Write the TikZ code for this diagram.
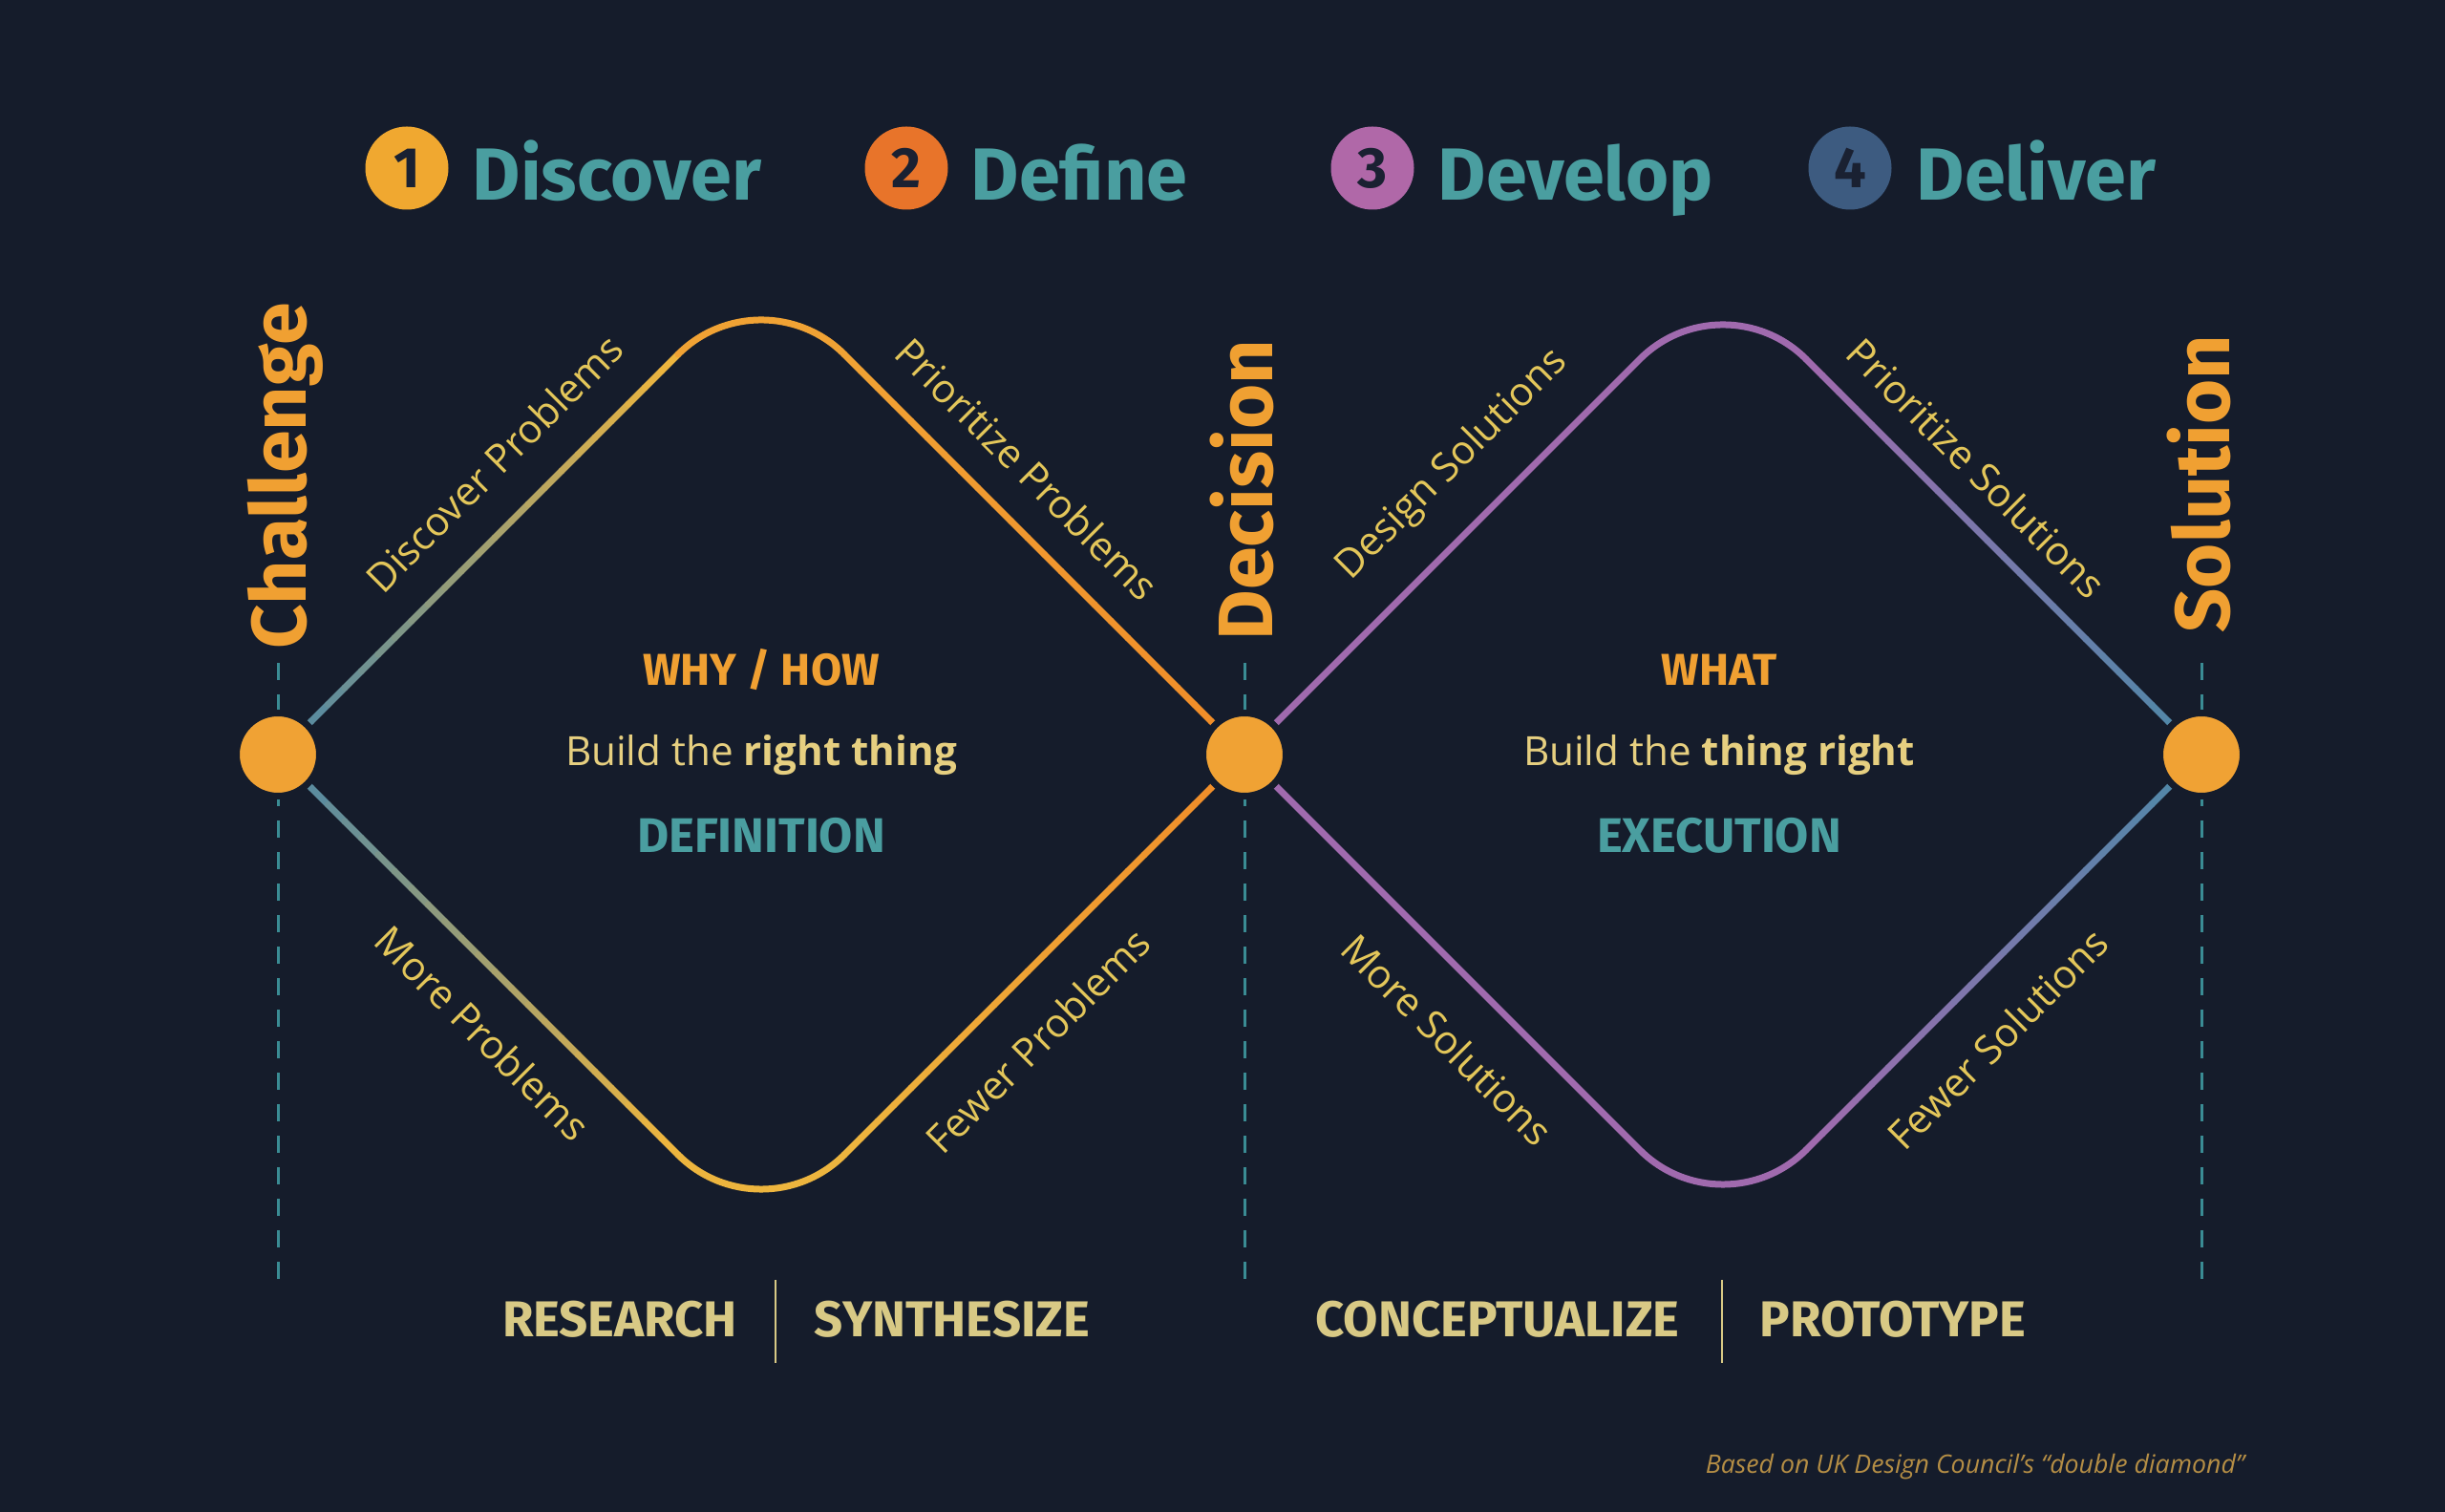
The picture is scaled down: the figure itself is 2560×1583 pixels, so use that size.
\documentclass[tikz,border=0pt]{standalone}
\usepackage{fontspec}
\setmainfont{Open Sans}
\newfontfamily\headfont{Fira Sans}
\usetikzlibrary{calc}
\usetikzlibrary{positioning}

\definecolor{bgC}{HTML}{151C2B}
\definecolor{headC}{HTML}{4A9EA0}
\definecolor{orgC}{HTML}{F0A032}
\definecolor{yelC}{HTML}{EDB53E}
\definecolor{ambC}{HTML}{F0A234}
\definecolor{oraC}{HTML}{F08C28}
\definecolor{bluC}{HTML}{4E88A8}
\definecolor{purC}{HTML}{A06AAE}
\definecolor{txtC}{HTML}{E3C65A}
\definecolor{buildC}{HTML}{E6CF80}
\definecolor{baseC}{HTML}{D8C985}
\definecolor{guideC}{HTML}{3A8C94}
\definecolor{noteC}{HTML}{B58E45}
\definecolor{oneC}{HTML}{F0A830}
\definecolor{twoC}{HTML}{E8742A}
\definecolor{threeC}{HTML}{B068A8}
\definecolor{fourC}{HTML}{3D5B80}
\definecolor{numC}{HTML}{1A2132}

% straight piece of a diamond, colour running from #3 to #4
\newcommand{\fadeline}[4]{%
    \foreach \k in {0,...,23}{%
        \pgfmathsetmacro{\ta}{\k/24}%
        \pgfmathsetmacro{\tb}{(\k+1)/24}%
        \pgfmathtruncatemacro{\mix}{100-\k*100/23}%
        \draw[dline, color=#3!\mix!#4] ($(#1)!\ta!(#2)$) -- ($(#1)!\tb!(#2)$);
    }%
}

\begin{document}
\begin{tikzpicture}[x=0.1mm, y=0.1mm,
        dline/.style={line width=0.7mm, line cap=round},
        guide/.style={guideC, line width=0.3mm, dash pattern=on 1.8mm off 1.5mm},
        dot/.style={circle, fill=ambC, draw=bgC, line width=0.7mm, minimum size=8.7mm, inner sep=0pt},
        num/.style={circle, minimum size=8.7mm, inner sep=0pt, text=numC, font=\headfont\bfseries\fontsize{17}{20}\selectfont},
        phase/.style={anchor=base west, inner sep=0pt, text=headC, font=\headfont\bfseries\fontsize{22}{26}\selectfont},
        milestone/.style={rotate=90, anchor=base west, inner sep=0pt, text=orgC, font=\headfont\bfseries\fontsize{23}{27}\selectfont},
        side/.style={sloped, inner sep=0pt, text=txtC, font=\fontsize{11.8}{14}\selectfont},
        question/.style={anchor=base, inner sep=0pt, text=orgC, font=\headfont\bfseries\fontsize{13.3}{16}\selectfont},
        build/.style={anchor=base, inner sep=0pt, text=buildC, font=\fontsize{12}{14}\selectfont},
        mode/.style={anchor=base, inner sep=0pt, text=headC, font=\headfont\bfseries\fontsize{14.5}{17}\selectfont},
        activity/.style={anchor=base, inner sep=0pt, text=baseC, font=\headfont\bfseries\fontsize{15}{18}\selectfont},
        divider/.style={baseC, line width=0.2mm}
    ]
    \fill[bgC] (0,0) rectangle (2560,1583);
    \useasboundingbox (0,0) rectangle (2560,1583);

    % phases
    \node[num, fill=oneC] (n1) at (426,1407) {1};
    \node[phase] (discover) at (494,1373) {Discover};
    \node[num, fill=twoC] (n2) at (949,1407) {2};
    \node[phase] (define) at (1016,1373) {Define};
    \node[num, fill=threeC] (n3) at (1437,1407) {3};
    \node[phase] (develop) at (1505,1373) {Develop};
    \node[num, fill=fourC] (n4) at (1937,1407) {4};
    \node[phase] (deliver) at (2006,1373) {Deliver};

    % corners
    \coordinate (top1) at (797,1299);
    \coordinate (bot1) at (797,287);
    \coordinate (top2) at (1804,1294);
    \coordinate (bot2) at (1804,292);
    \coordinate (chal) at (291,793);
    \coordinate (deci) at (1303,793);
    \coordinate (solu) at (2305,793);

    % guides
    \coordinate (chal-up) at (291,889);
    \coordinate (chal-down) at (291,231);
    \coordinate (deci-up) at (1303,889);
    \coordinate (deci-down) at (1303,231);
    \coordinate (solu-up) at (2305,889);
    \coordinate (solu-down) at (2305,231);
    \draw[guide] (chal-up) -- (chal-down);
    \draw[guide] (deci-up) -- (deci-down);
    \draw[guide] (solu-up) -- (solu-down);

    % first diamond
    \coordinate (t1a) at ($(top1)!12.3mm!(chal)$);
    \coordinate (t1b) at ($(top1)!12.3mm!(deci)$);
    \coordinate (b1a) at ($(bot1)!12.3mm!(chal)$);
    \coordinate (b1b) at ($(bot1)!12.3mm!(deci)$);
    \fadeline{chal}{t1a}{bluC}{yelC}
    \fadeline{t1b}{deci}{ambC}{oraC}
    \fadeline{chal}{b1a}{bluC}{yelC}
    \fadeline{b1b}{deci}{yelC}{oraC}
    \draw[dline, ambC] (t1a) arc[start angle=135, end angle=45, radius=12.3mm];
    \draw[dline, yelC] (b1a) arc[start angle=225, end angle=315, radius=12.3mm];

    % second diamond
    \coordinate (t2a) at ($(top2)!12.3mm!(deci)$);
    \coordinate (t2b) at ($(top2)!12.3mm!(solu)$);
    \coordinate (b2a) at ($(bot2)!12.3mm!(deci)$);
    \coordinate (b2b) at ($(bot2)!12.3mm!(solu)$);
    \draw[dline, purC] (deci) -- (t2a) arc[start angle=135, end angle=45, radius=12.3mm];
    \draw[dline, purC] (deci) -- (b2a) arc[start angle=225, end angle=315, radius=12.3mm];
    \fadeline{t2b}{solu}{purC}{bluC}
    \fadeline{b2b}{solu}{purC}{bluC}

    % milestones
    \node[dot] (chal-dot) at (chal) {};
    \node[dot] (deci-dot) at (deci) {};
    \node[dot] (solu-dot) at (solu) {};
    \node[milestone] (challenge) at (320,903) {Challenge};
    \node[milestone] (decision) at (1332,912) {Decision};
    \node[milestone] (solution) at (2334,920) {Solution};

    % along the sides
    \path (chal) -- (top1) node[side, pos=.525, above=3.9mm] (s1) {Discover Problems};
    \path (top1) -- (deci) node[side, pos=.48, above=3.4mm] (s2) {Prioritize Problems};
    \path (chal) -- (bot1) node[side, pos=.5, below=3.8mm] (s3) {More Problems};
    \path (bot1) -- (deci) node[side, pos=.49, below=4.2mm] (s4) {Fewer Problems};
    \path (deci) -- (top2) node[side, pos=.52, above=3.9mm] (s5) {Design Solutions};
    \path (top2) -- (solu) node[side, pos=.466, above=2.9mm] (s6) {Prioritize Solutions};
    \path (deci) -- (bot2) node[side, pos=.51, below=4.4mm] (s7) {More Solutions};
    \path (bot2) -- (solu) node[side, pos=.49, below=4.3mm] (s8) {Fewer Solutions};

    % inside
    \node[question] (why) at (797,865) {WHY / HOW};
    \node[build] (right) at (797,781) {Build the \textbf{right thing}};
    \node[mode] (definition) at (797,690) {DEFINITION};
    \node[question] (what) at (1800,865) {WHAT};
    \node[build] (thing) at (1800,781) {Build the \textbf{thing right}};
    \node[mode] (execution) at (1800,690) {EXECUTION};

    % below
    \node[activity] (research) at (649,183) {RESEARCH};
    \node[activity] (synth) at (997,183) {SYNTHESIZE};
    \node[activity] (concept) at (1568,183) {CONCEPTUALIZE};
    \node[activity] (proto) at (1982,183) {PROTOTYPE};
    \coordinate (div1-up) at (812,243);
    \coordinate (div1-down) at (812,156);
    \coordinate (div2-up) at (1803,243);
    \coordinate (div2-down) at (1803,156);
    \draw[divider] (div1-up) -- (div1-down);
    \draw[divider] (div2-up) -- (div2-down);

    \node[anchor=base east, inner sep=0pt, text=noteC, font=\itshape\fontsize{7.6}{9}\selectfont] (note) at (2351,40) {Based on UK Design Council's ``double diamond''};
\end{tikzpicture}
\end{document}
